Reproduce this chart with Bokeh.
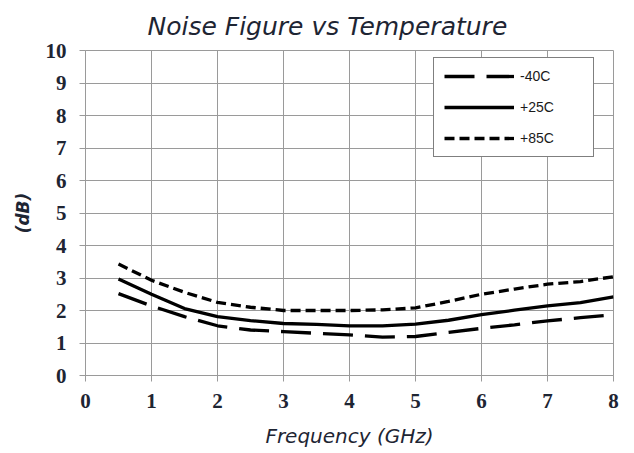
from bokeh.plotting import figure
from bokeh.models import Legend, LegendItem, Range1d, FixedTicker, Title
from bokeh.embed import file_html
from bokeh.resources import INLINE

freq = [0.5, 1.0, 1.5, 2.0, 2.5, 3.0, 3.5, 4.0, 4.5, 5.0, 5.5, 6.0, 6.5, 7.0, 7.5, 8.0]
nf_m40 = [2.52, 2.14, 1.81, 1.53, 1.40, 1.35, 1.30, 1.25, 1.18, 1.20, 1.33, 1.45, 1.56, 1.68, 1.78, 1.87]
nf_p25 = [2.97, 2.50, 2.06, 1.81, 1.69, 1.60, 1.57, 1.53, 1.53, 1.58, 1.70, 1.87, 2.01, 2.14, 2.24, 2.42]
nf_p85 = [3.43, 2.93, 2.56, 2.25, 2.10, 2.00, 2.00, 2.00, 2.02, 2.08, 2.28, 2.50, 2.66, 2.81, 2.89, 3.04]
series_names = ["-40C", "+25C", "+85C"]
x_ticks = [0, 1, 2, 3, 4, 5, 6, 7, 8]
y_ticks = [0, 1, 2, 3, 4, 5, 6, 7, 8, 9, 10]

TXT = "#1e2533"
GRID = "#9a9a9a"

p = figure(width=634, height=453, output_backend="svg", toolbar_location=None,
           x_range=Range1d(0, 8), y_range=Range1d(0, 10),
           min_border_left=85, min_border_right=21, min_border_top=50, min_border_bottom=78,
           background_fill_color="white", border_fill_color="white")
p.title = None
t = Title(text="Noise Figure vs Temperature", align="left", offset=62,
          text_font="DejaVu Sans", text_font_style="italic", text_font_size="25px",
          text_color=TXT, standoff=19)
p.add_layout(t, "above")

p.outline_line_color = GRID
p.outline_line_width = 1

for ax in (p.xaxis[0], p.yaxis[0]):
    ax.axis_line_color = GRID
    ax.major_tick_line_color = GRID
    ax.major_tick_out = 6
    ax.major_tick_in = 0
    ax.minor_tick_line_color = None
    ax.major_label_text_font = "Liberation Serif"
    ax.major_label_text_font_style = "bold"
    ax.major_label_text_font_size = "21px"
    ax.major_label_text_color = TXT
    ax.axis_label_text_color = TXT

p.xaxis.ticker = FixedTicker(ticks=x_ticks)
p.yaxis.ticker = FixedTicker(ticks=y_ticks)
p.xaxis.major_label_standoff = 12
p.yaxis.major_label_standoff = 13
p.xaxis.axis_label = "Frequency (GHz)"
p.xaxis.axis_label_text_font = "DejaVu Sans"
p.xaxis.axis_label_text_font_style = "italic"
p.xaxis.axis_label_text_font_size = "20px"
p.xaxis.axis_label_standoff = 13
p.yaxis.axis_label = "(dB)"
p.yaxis.axis_label_text_font = "DejaVu Sans"
p.yaxis.axis_label_text_font_style = "bold italic"
p.yaxis.axis_label_text_font_size = "17px"
p.yaxis.axis_label_standoff = 10

p.xgrid.grid_line_color = GRID
p.ygrid.grid_line_color = GRID
p.xgrid.ticker = FixedTicker(ticks=x_ticks)
p.ygrid.ticker = FixedTicker(ticks=y_ticks)

r1 = p.line(freq, nf_m40, line_color="black", line_width=3.3, line_dash="30 12")
r2 = p.line(freq, nf_p25, line_color="black", line_width=3.3)
r3 = p.line(freq, nf_p85, line_color="black", line_width=3.3, line_dash="10 5")

legend = Legend(items=[LegendItem(label=series_names[0], renderers=[r1]),
                       LegendItem(label=series_names[1], renderers=[r2]),
                       LegendItem(label=series_names[2], renderers=[r3])],
                location=(348, 218), border_line_color="black", border_line_width=1.5,
                background_fill_color="white", background_fill_alpha=1,
                glyph_width=70, glyph_height=14, label_height=14, spacing=15,
                padding=10, label_standoff=6, label_width=63,
                label_text_font="Liberation Sans", label_text_font_size="14px",
                label_text_color="#1a1a1a", margin=0)
p.add_layout(legend, "center")

open("out.html", "w").write(file_html(p, INLINE))
